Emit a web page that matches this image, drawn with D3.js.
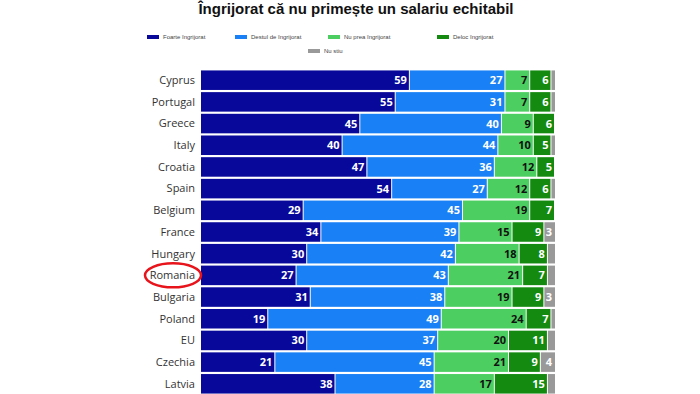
<!DOCTYPE html>
<html>
<head>
<meta charset="utf-8">
<script src="https://cdn.jsdelivr.net/npm/d3@7"></script>
<style>
  body { margin: 0; background: #fff; }
  svg { display: block; font-family: "Open Sans", sans-serif; }
</style>
</head>
<body>
<div id="chart"></div>
<script>
// Data________________________________________________
const countries = ['Cyprus', 'Portugal', 'Greece', 'Italy', 'Croatia', 'Spain', 'Belgium', 'France',
  'Hungary', 'Romania', 'Bulgaria', 'Poland', 'EU', 'Czechia', 'Latvia'];
const seriesNames = ['Foarte îngrijorat', 'Destul de îngrijorat', 'Nu prea îngrijorat', 'Deloc îngrijorat', 'Nu stiu'];
const foarte = [59, 55, 45, 40, 47, 54, 29, 34, 30, 27, 31, 19, 30, 21, 38];
const destul = [27, 31, 40, 44, 36, 27, 45, 39, 42, 43, 38, 49, 37, 45, 28];
const nuPrea = [7, 7, 9, 10, 12, 12, 19, 15, 18, 21, 19, 24, 20, 21, 17];
const deloc = [6, 6, 6, 5, 5, 6, 7, 9, 8, 7, 9, 7, 11, 9, 15];
const nuStiu = [1, 1, 0, 1, 0, 1, 0, 3, 2, 2, 3, 1, 2, 4, 2];
const colors = ['#08089a', '#1a80f5', '#4ccf60', '#148a10', '#999999'];
const textColors = ['#fff', '#fff', '#111', '#fff', '#fff'];

const width = 700, height = 394;
const rows = countries.map((c, i) => ({
  country: c,
  vals: [foarte[i], destul[i], nuPrea[i], deloc[i], nuStiu[i]]
}));

const svg = d3.select('#chart').append('svg')
  .attr('width', width).attr('height', height);

// Title
svg.append('text')
  .attr('x', 356).attr('y', 14)
  .attr('text-anchor', 'middle')
  .style('font-family', 'Liberation Sans, Arial, sans-serif')
  .style('font-weight', 'bold')
  .style('font-size', '15px')
  .attr('fill', '#111')
  .text('Îngrijorat că nu primește un salariu echitabil');

// Legend
const legendPos = [[147, 37], [235, 37], [328, 37], [437, 37], [308, 51]];
const legend = svg.selectAll('.legend-item')
  .data(seriesNames)
  .enter().append('g')
  .attr('class', 'legend-item')
  .attr('transform', (d, i) => `translate(${legendPos[i][0]}, ${legendPos[i][1]})`);
legend.append('rect')
  .attr('x', 0).attr('y', -2).attr('width', 12).attr('height', 4)
  .attr('fill', (d, i) => colors[i]);
legend.append('text')
  .attr('x', 16).attr('y', 2)
  .style('font-family', 'Liberation Sans, Arial, sans-serif')
  .style('font-size', '6px')
  .attr('fill', '#444')
  .text(d => d);

// Scales
const x = d3.scaleLinear().domain([0, 100]).range([201, 555]);
const y = d3.scaleBand().domain(countries).range([70, 394]).paddingInner(0.1).paddingOuter(0.02);

// Bars
const rowG = svg.selectAll('.row')
  .data(rows)
  .enter().append('g')
  .attr('class', 'row')
  .attr('transform', d => `translate(0, ${y(d.country)})`);

rowG.append('text')
  .attr('x', 195).attr('y', y.bandwidth() / 2)
  .attr('dy', '0.35em')
  .attr('text-anchor', 'end')
  .style('font-size', '11px')
  .attr('fill', '#333')
  .text(d => d.country);

rowG.each(function (d) {
  const g = d3.select(this);
  let cum = 0;
  d.vals.forEach((v, k) => {
    const x0 = x(cum), x1 = x(cum + v);
    cum += v;
    if (v <= 0) return;
    g.append('rect')
      .attr('x', x0).attr('y', 0)
      .attr('width', Math.max(0, x1 - x0 - (k < 4 ? 1 : 0)))
      .attr('height', y.bandwidth())
      .attr('fill', colors[k]);
    if (v >= 3) {
      g.append('text')
        .attr('x', x1 - 3).attr('y', y.bandwidth() / 2)
        .attr('dy', '0.36em')
        .attr('text-anchor', 'end')
        .style('font-size', '11px')
        .style('font-weight', 'bold')
        .attr('fill', textColors[k])
        .text(v);
    }
  });
});

// Highlight Romania
svg.append('ellipse')
  .attr('cx', 173).attr('cy', y('Romania') + y.bandwidth() / 2)
  .attr('rx', 28).attr('ry', 12)
  .attr('fill', 'none')
  .attr('stroke', '#e8141c')
  .attr('stroke-width', 2.5);
</script>
</body>
</html>
